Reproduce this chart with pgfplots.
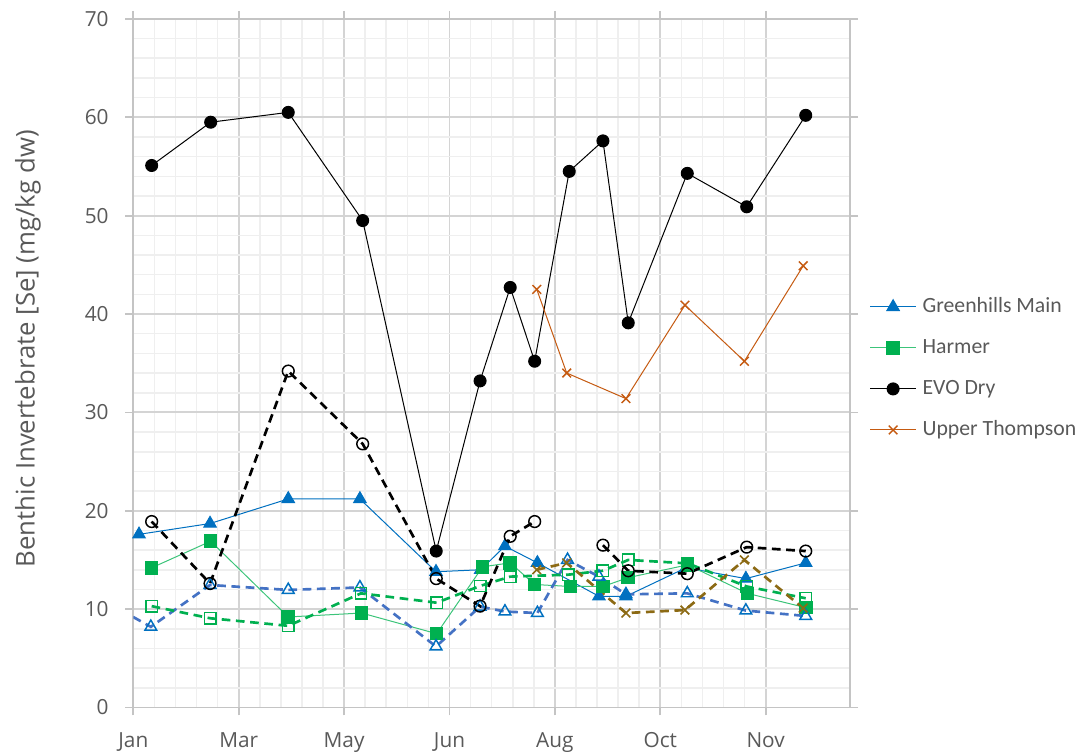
\documentclass[border=0pt]{standalone}
\usepackage{fontspec}
\setmainfont{Open Sans}
\newfontfamily\legfont{Carlito}
\usepackage{pgfplots}
\pgfplotsset{compat=1.18}
\definecolor{gmain}{HTML}{0070C0}
\definecolor{gdash}{HTML}{4472C4}
\definecolor{harm}{HTML}{00B050}
\definecolor{harmline}{HTML}{3CC47A}
\definecolor{upt}{HTML}{C55A11}
\definecolor{uptd}{HTML}{8C6A14}
\definecolor{txt}{HTML}{595959}
\definecolor{majg}{HTML}{D4D4D4}
\definecolor{ming}{HTML}{EFEFEF}
\definecolor{axg}{HTML}{C4C4C4}
\begin{document}
\begin{tikzpicture}
\useasboundingbox (0,0) rectangle (809.25pt,564pt);
\begin{axis}[
  at={(100pt,33.4pt)}, anchor=south west,
  scale only axis, width=537.5pt, height=516.4pt,
  xmin=0, xmax=340, ymin=0, ymax=70,
  xtick={0,50,...,300},
  xticklabels={Jan,Mar,May,Jun,Aug,Oct,Nov},
  ytick={0,10,...,70},
  minor x tick num=4, minor y tick num=4,
  grid=both,
  major grid style={majg, line width=1.4pt},
  minor grid style={ming, line width=1.2pt},
  axis line style={axg, line width=1.3pt},
  tick align=outside,
  major tick length=6pt, minor tick length=0pt,
  tick style={axg, line width=1.3pt},
  /pgf/number format/assume math mode=true,
  tick label style={font=\fontsize{15.6}{18}\selectfont, text=txt},
  yticklabel style={xshift=-9pt},
  xticklabel style={yshift=-9pt},
  ylabel={Benthic Invertebrate [Se] (mg/kg dw)},
  ylabel style={font=\fontsize{19.3}{23}\selectfont, text=txt, at={(axis description cs:-0.147,0.521)}, anchor=center},
  unbounded coords=jump,
  legend style={draw=none, fill=none, inner sep=0pt, at={(1.027,0.4924)}, anchor=west,
     font=\legfont\fontsize{16.3}{19}\selectfont, text=txt,
     nodes={inner sep=0pt, text height=11pt, text depth=3pt},
     row sep=16.75pt},
  legend cell align=left,
  legend image code/.code={\draw[mark repeat=2,mark phase=2,#1] plot coordinates {(0pt,0pt) (17.25pt,0pt) (34.5pt,0pt)};},
  /tikz/every odd column/.style={column sep=4.5pt},
]
% solid series
\addplot[gmain, line width=0.75pt, mark=triangle*, mark size=5.4pt, mark options={fill=gmain, draw=gmain}] coordinates {
(2.7,17.6)(36.4,18.7)(73.5,21.2)(107.5,21.2)(143.6,13.8)(164.8,14.0)(176.3,16.4)(191.7,14.7)(220.9,11.3)(233.7,11.3)(262.2,14.2)(290.6,13.1)(319.0,14.7)};
\addlegendentry{Greenhills Main}
\addplot[harmline, line width=0.75pt, mark=square*, mark size=4.7pt, mark options={fill=harm, draw=harm}] coordinates {
(8.7,14.2)(36.7,16.9)(73.5,9.2)(108.3,9.6)(143.9,7.5)(165.7,14.3)(178.8,14.7)(190.4,12.5)(207.4,12.3)(222.8,12.3)(234.8,13.2)(263,14.5)(291.3,11.6)(319,10.15)};
\addlegendentry{Harmer}
\addplot[black, line width=0.75pt, mark=*, mark size=4.5pt, mark options={fill=black}] coordinates {
(8.7,55.1)(36.7,59.5)(73.5,60.5)(108.8,49.5)(143.7,15.9)(164.5,33.2)(178.8,42.7)(190.4,35.2)(206.8,54.5)(222.8,57.6)(234.8,39.1)(262.8,54.3)(291.0,50.9)(319.0,60.2)};
\addlegendentry{EVO Dry}
\addplot[upt, line width=0.75pt, mark=x, mark size=4.6pt, mark options={line width=1.1pt}] coordinates {
(191.4,42.5)(205.6,34.0)(233.7,31.4)(261.7,40.9)(289.9,35.2)(317.8,44.9)};
\addlegendentry{Upper Thompson}
% dashed series
\addplot[forget plot, gdash, line width=2pt, dash pattern=on 6.5pt off 4.2pt, mark=triangle, mark size=5.1pt, mark options={solid, draw=gmain, line width=1.1pt}] coordinates {
(-6,9.9)(8.3,8.2)(36.4,12.45)(73.5,11.95)(107.5,12.2)(143.6,6.2)(164.5,10.25)(176.3,9.75)(191.7,9.6)(206.0,15.0)(220.9,13.3)(233.7,11.5)(262.8,11.6)(290.6,9.85)(319,9.3)};
\addplot[forget plot, harm, line width=2pt, dash pattern=on 6.5pt off 4.2pt, mark=square, mark size=4.3pt, mark options={solid, draw=harm, line width=1.1pt}] coordinates {
(8.7,10.3)(36.4,9.07)(73.5,8.3)(108,11.6)(143.9,10.65)(164.5,12.35)(178.8,13.3)(206.3,13.5)(222.8,13.9)(234.8,15.0)(263,14.65)(291,12.3)(319,11.1)};
\addplot[forget plot, black, line width=2pt, dash pattern=on 6.5pt off 4.2pt, mark=o, mark size=4.4pt, mark options={solid, line width=1.1pt}] coordinates {
(8.7,18.9)(36.4,12.6)(73.5,34.2)(108.8,26.8)(143.7,13.1)(164.5,10.3)(178.8,17.4)(190.4,18.9)(206.8,nan)(222.8,16.5)(234.8,13.9)(262.8,13.6)(291,16.3)(319,15.9)};
\addplot[forget plot, uptd, line width=2pt, dash pattern=on 6.5pt off 4.2pt, mark=x, mark size=4.6pt, mark options={solid, line width=1.2pt}] coordinates {
(191.4,14.0)(205.6,14.7)(233.7,9.6)(261.7,9.9)(289.9,15.0)(317.8,10.1)};
\end{axis}
\end{tikzpicture}
\end{document}
